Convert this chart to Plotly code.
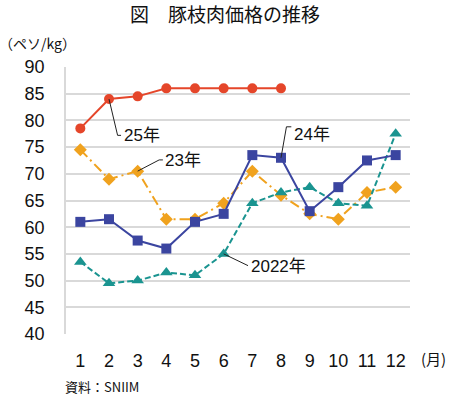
import plotly.graph_objects as go

months = list(range(1, 13))
month_labels = [str(m) for m in months]
y_ticks = [40, 45, 50, 55, 60, 65, 70, 75, 80, 85, 90]

s2022 = [53.5, 49.5, 50, 51.5, 51, 55, 64.5, 66.5, 67.5, 64.5, 64, 77.5]
s2023 = [74.5, 69, 70.5, 61.5, 61.5, 64.5, 70.5, 66, 62.5, 61.5, 66.5, 67.5]
s2024 = [61, 61.5, 57.5, 56, 61, 62.5, 73.5, 73, 63, 67.5, 72.5, 73.5]
s2025 = [78.5, 84, 84.5, 86, 86, 86, 86, 86]

FONT = "Arial, 'Liberation Sans', 'Noto Sans CJK JP', sans-serif"
JFONT = "'Noto Sans CJK JP', sans-serif"

fig = go.Figure()
fig.add_trace(go.Scatter(x=months, y=s2023, mode="lines+markers",
                         line=dict(color="#F0A21E", width=2, dash="10px,4px,2px,4px"),
                         marker=dict(symbol="diamond", size=10, color="#F0A21E")))
fig.add_trace(go.Scatter(x=months, y=s2022, mode="lines+markers",
                         line=dict(color="#1A9490", width=2, dash="6px,3px"),
                         marker=dict(symbol="triangle-up", size=11, color="#1A9490")))
fig.add_trace(go.Scatter(x=months, y=s2024, mode="lines+markers",
                         line=dict(color="#3B45A0", width=2),
                         marker=dict(symbol="square", size=10, color="#3B45A0")))
fig.add_trace(go.Scatter(x=months[:len(s2025)], y=s2025, mode="lines+markers",
                         line=dict(color="#E5462A", width=2),
                         marker=dict(symbol="circle", size=10, color="#E5462A")))

# leader lines
leaders = [
    [(2, 84), (2.24, 78.2), (2.3, 77.2), (2.42, 77.2)],
    [(3, 70.5), (3.75, 72.6), (3.88, 72.6)],
    [(8, 73), (8.19, 78.8), (8.36, 78.8)],
    [(6, 55), (6.85, 52.8)],
]
for pts in leaders:
    fig.add_trace(go.Scatter(x=[p[0] for p in pts], y=[p[1] for p in pts], mode="lines",
                             line=dict(color="#222222", width=1), hoverinfo="skip"))

labels = [("25年", 2.45, 77.1), ("23年", 3.9, 72.4), ("24年", 8.38, 77.3), ("2022年", 6.88, 52.7)]
for t, x, y in labels:
    fig.add_annotation(x=x, y=y, text=t, showarrow=False, xanchor="left", yanchor="middle",
                       font=dict(family=FONT, size=17, color="#111111"))

fig.add_annotation(xref="paper", yref="paper", x=1.11, y=-0.09, text="(月)", showarrow=False,
                   xanchor="right", yanchor="middle", font=dict(family=JFONT, size=15, color="#111111"))
fig.add_annotation(xref="paper", yref="paper", x=-0.01, y=-0.198, text="資料：SNIIM", showarrow=False,
                   xanchor="left", yanchor="middle", font=dict(family=JFONT, size=13, color="#111111"))
fig.add_annotation(xref="paper", yref="paper", x=-0.2, y=1.09, text="（ペソ/kg）", showarrow=False,
                   xanchor="left", yanchor="middle", font=dict(family=JFONT, size=14, color="#111111"))

fig.update_layout(
    width=450, height=397,
    margin=dict(l=66, r=40, t=67, b=63),
    paper_bgcolor="white", plot_bgcolor="white",
    showlegend=False,
    title=dict(text="図　豚枝肉価格の推移", x=0.5, xanchor="center", y=0.962, yanchor="middle",
               font=dict(family=JFONT, size=19, color="#111111")),
    xaxis=dict(range=[0.5, 12.5], tickmode="array", tickvals=months, ticktext=month_labels,
               showgrid=False, zeroline=False, showline=False, ticks="", automargin=False,
               ticklabelstandoff=14, tickfont=dict(family=FONT, size=18, color="#111111"),
               fixedrange=True),
    yaxis=dict(range=[40, 90], tickmode="array", tickvals=y_ticks, automargin=False,
               showgrid=True, gridcolor="#D9D9D9", gridwidth=1.5, zeroline=False,
               showline=True, linecolor="#D9D9D9", linewidth=1.5, ticks="",
               ticklabelstandoff=16, tickfont=dict(family=FONT, size=18, color="#111111"),
               fixedrange=True),
)

fig.write_html("out.html", config={"displayModeBar": False},
               post_script="document.body.style.margin='0';document.body.style.padding='0';")
